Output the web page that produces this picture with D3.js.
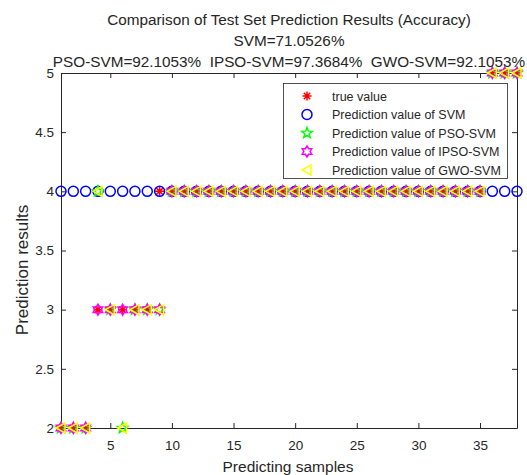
<!DOCTYPE html>
<html>
<head>
<meta charset="utf-8">
<script src="https://cdn.jsdelivr.net/npm/d3@7"></script>
<style>
  body { margin: 0; background: #fff; }
  text { font-family: "Liberation Sans", Arial, sans-serif; fill: #262626; }
</style>
</head>
<body>
<svg id="chart"></svg>
<script>
// test set: 38 samples
const trueVals = [2,2,2,3,3,3,3,3,4,4,4,4,4,4,4,4,4,4,4,4,4,4,4,4,4,4,4,4,4,4,4,4,4,4,4,5,5,5];
const svmVals  = [4,4,4,4,4,4,4,4,4,4,4,4,4,4,4,4,4,4,4,4,4,4,4,4,4,4,4,4,4,4,4,4,4,4,4,4,4,4];
const psoVals  = [2,2,2,4,3,2,3,3,3,4,4,4,4,4,4,4,4,4,4,4,4,4,4,4,4,4,4,4,4,4,4,4,4,4,4,5,5,5];
const ipsoVals = [2,2,2,3,3,3,3,3,3,4,4,4,4,4,4,4,4,4,4,4,4,4,4,4,4,4,4,4,4,4,4,4,4,4,4,5,5,5];
const gwoVals  = [2,2,2,4,3,2,3,3,3,4,4,4,4,4,4,4,4,4,4,4,4,4,4,4,4,4,4,4,4,4,4,4,4,4,4,5,5,5];

const seriesNames = ["true value", "Prediction value of SVM", "Prediction value of PSO-SVM",
                     "Prediction value of IPSO-SVM", "Prediction value of GWO-SVM"];
const titleLines = ["Comparison of Test Set Prediction Results (Accuracy)",
                    "SVM=71.0526%",
                    "PSO-SVM=92.1053%  IPSO-SVM=97.3684%  GWO-SVM=92.1053%"];
const xTicks = [5, 10, 15, 20, 25, 30, 35];
const yTicks = [2, 2.5, 3, 3.5, 4, 4.5, 5];

const width = 527, height = 475;
const svg = d3.select("#chart").attr("width", width).attr("height", height);

const x = d3.scaleLinear().domain([1, 38]).range([61, 517]);
const y = d3.scaleLinear().domain([2, 5]).range([428, 73]);

// marker shapes (path strings centred at 0,0)
function asterisk(r) {
  const d = r * 0.707;
  return `M${-r},0L${r},0M0,${-r}L0,${r}M${-d},${-d}L${d},${d}M${-d},${d}L${d},${-d}`;
}
function circle(r) {
  return `M${r},0A${r},${r} 0 1,1 ${-r},0A${r},${r} 0 1,1 ${r},0Z`;
}
function starPath(n, ro, ri) {
  const pts = [];
  for (let i = 0; i < 2 * n; i++) {
    const a = -Math.PI / 2 + i * Math.PI / n;
    const rr = i % 2 ? ri : ro;
    pts.push([rr * Math.cos(a), rr * Math.sin(a)]);
  }
  return "M" + pts.map(p => p[0].toFixed(2) + "," + p[1].toFixed(2)).join("L") + "Z";
}
function triLeft(r) {
  return `M${-r},0L${r * 0.8},${-r}L${r * 0.8},${r}Z`;
}

const series = [
  { vals: trueVals, color: "#ff0000", path: asterisk(4.5) },
  { vals: svmVals,  color: "#0000ff", path: circle(5) },
  { vals: psoVals,  color: "#00ff00", path: starPath(5, 5.5, 2.3) },
  { vals: ipsoVals, color: "#ff00ff", path: starPath(6, 5.5, 3.2) },
  { vals: gwoVals,  color: "#ffff00", path: triLeft(5) }
];

// axes (box, ticks pointing in)
const axisColor = "#262626";
const gx = svg.append("g").attr("transform", `translate(0,${y(2)})`)
  .call(d3.axisBottom(x).tickValues(xTicks).tickSizeInner(-5).tickSizeOuter(0).tickPadding(12));
const gxt = svg.append("g").attr("transform", `translate(0,${y(5)})`)
  .call(d3.axisTop(x).tickValues(xTicks).tickSizeInner(-5).tickSizeOuter(0).tickFormat(""));
const gy = svg.append("g").attr("transform", `translate(${x(1)},0)`)
  .call(d3.axisLeft(y).tickValues(yTicks).tickSizeInner(-5).tickSizeOuter(0).tickPadding(7)
    .tickFormat(d3.format("")));
const gyr = svg.append("g").attr("transform", `translate(${x(38)},0)`)
  .call(d3.axisRight(y).tickValues(yTicks).tickSizeInner(-5).tickSizeOuter(0).tickFormat(""));

[gx, gxt, gy, gyr].forEach(g => {
  g.selectAll("path, line").attr("stroke", axisColor);
  g.selectAll("text").attr("fill", axisColor)
    .style("font-family", '"Liberation Sans", Arial, sans-serif').style("font-size", "13.5px");
});

// data markers
series.forEach(s => {
  svg.append("g")
    .selectAll("path")
    .data(s.vals)
    .enter()
    .append("path")
    .attr("d", s.path)
    .attr("transform", (d, i) => `translate(${x(i + 1)},${y(d)})`)
    .attr("fill", "none")
    .attr("stroke", s.color)
    .attr("stroke-width", 1.5);
});

// title
svg.append("g").selectAll("text")
  .data(titleLines)
  .enter()
  .append("text")
  .attr("x", 289)
  .attr("y", (d, i) => 25 + i * 21)
  .attr("text-anchor", "middle")
  .attr("xml:space", "preserve")
  .style("white-space", "pre")
  .style("font-size", "15.3px")
  .attr("fill", "#000")
  .text(d => d);

// axis labels
svg.append("text")
  .attr("x", 288).attr("y", 472)
  .attr("text-anchor", "middle")
  .style("font-size", "15.5px")
  .text("Predicting samples");

svg.append("text")
  .attr("transform", "translate(28,270) rotate(-90)")
  .attr("text-anchor", "middle")
  .style("font-size", "17px")
  .text("Prediction results");

// legend
const legend = svg.append("g");
legend.append("rect")
  .attr("x", 283.5).attr("y", 83.5)
  .attr("width", 224).attr("height", 95)
  .attr("fill", "#fff").attr("stroke", axisColor).attr("stroke-width", 0.8);

const items = legend.selectAll("g.item")
  .data(series)
  .enter()
  .append("g")
  .attr("class", "item")
  .attr("transform", (d, i) => `translate(0,${96 + i * 18.5})`);

items.append("path")
  .attr("d", d => d.path)
  .attr("transform", "translate(307,0)")
  .attr("fill", "none")
  .attr("stroke", d => d.color)
  .attr("stroke-width", 1.5);

items.append("text")
  .attr("x", 332).attr("y", 4.5)
  .style("font-size", "12.5px")
  .attr("fill", "#000")
  .text((d, i) => seriesNames[i]);
</script>
</body>
</html>
